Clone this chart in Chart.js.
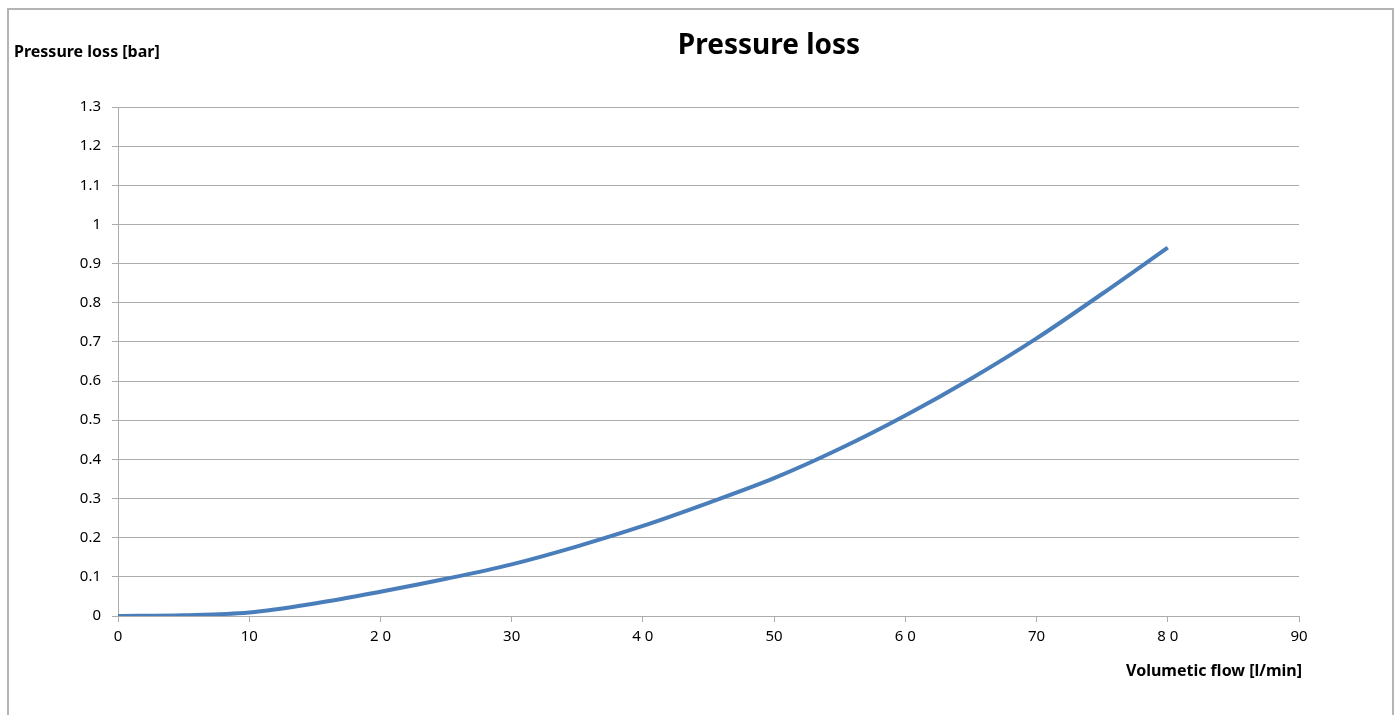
<!DOCTYPE html>
<html>
<head>
<meta charset="utf-8">
<script src="https://cdn.jsdelivr.net/npm/chart.js@4"></script>
<style>
  html, body { margin: 0; padding: 0; background: #fff; }
  #wrap { width: 1399px; height: 715px; position: relative; }
</style>
</head>
<body>
<div id="wrap"><canvas id="lossChart"></canvas></div>
<script>
// flow in l/min, pressure loss in bar
const flow = [0, 5, 10, 15, 20, 25, 30, 35, 40, 45, 50, 55, 60, 65, 70, 75, 80];
const loss = [0, 0.002, 0.009, 0.032, 0.062, 0.095, 0.132, 0.178, 0.23, 0.289, 0.352, 0.427, 0.512, 0.606, 0.709, 0.823, 0.941];
const xTickLabels = ['0', '10', '2 0', '30', '4 0', '50', '6 0', '70', '8 0', '90'];
const yTickLabels = ['0', '0.1', '0.2', '0.3', '0.4', '0.5', '0.6', '0.7', '0.8', '0.9', '1', '1.1', '1.2', '1.3'];

const fontFamily = '"Noto Sans", "Open Sans", sans-serif';
const gridColor = '#acacac';

const textPlugin = {
  id: 'frameAndTitles',
  afterDraw(chart) {
    const ctx = chart.ctx;
    ctx.save();
    // outer frame
    ctx.strokeStyle = '#b4b4b4';
    ctx.lineWidth = 2;
    ctx.beginPath();
    ctx.moveTo(8, 720);
    ctx.lineTo(8, 9);
    ctx.lineTo(1393, 9);
    ctx.lineTo(1393, 720);
    ctx.stroke();

    ctx.fillStyle = '#000';
    ctx.textBaseline = 'middle';
    ctx.font = 'bold 28px ' + fontFamily;
    ctx.textAlign = 'center';
    ctx.fillText('Pressure loss', 769, 46);

    ctx.font = 'bold 16px ' + fontFamily;
    ctx.textAlign = 'left';
    ctx.fillText('Pressure loss [bar]', 14, 52);

    ctx.textAlign = 'right';
    ctx.fillText('Volumetic flow [l/min]', 1302, 671);
    ctx.restore();
  }
};

new Chart(document.getElementById('lossChart'), {
  type: 'line',
  data: {
    datasets: [{
      label: 'Pressure loss',
      data: flow.map((f, i) => ({ x: f, y: loss[i] })),
      borderColor: '#4a7ebb',
      borderWidth: 4,
      pointRadius: 0,
      fill: false,
      cubicInterpolationMode: 'monotone'
    }]
  },
  options: {
    responsive: true,
    maintainAspectRatio: false,
    animation: false,
    layout: { padding: { left: 0, top: 107, right: 100, bottom: 39 } },
    plugins: {
      legend: { display: false },
      title: { display: false },
      tooltip: { enabled: false }
    },
    scales: {
      x: {
        type: 'linear',
        min: 0,
        max: 90,
        afterFit(scale) { scale.height = 60; },
        afterBuildTicks(scale) {
          scale.ticks = xTickLabels.map((t, i) => ({ value: i * 10 }));
        },
        ticks: {
          color: '#000',
          font: { family: fontFamily, size: 15 },
          padding: 6,
          maxRotation: 0,
          callback: (v, i) => xTickLabels[i]
        },
        grid: { drawOnChartArea: false, drawTicks: true, tickLength: 6, color: gridColor },
        border: { color: gridColor }
      },
      y: {
        min: 0,
        max: 1.3,
        afterFit(scale) { scale.width = 118; },
        afterBuildTicks(scale) {
          scale.ticks = yTickLabels.map((t, i) => ({ value: i / 10 }));
        },
        ticks: {
          color: '#000',
          font: { family: fontFamily, size: 15 },
          padding: 11,
          callback: (v, i) => yTickLabels[i]
        },
        grid: { color: gridColor, tickLength: 6 },
        border: { color: gridColor }
      }
    }
  },
  plugins: [textPlugin]
});
</script>
</body>
</html>
